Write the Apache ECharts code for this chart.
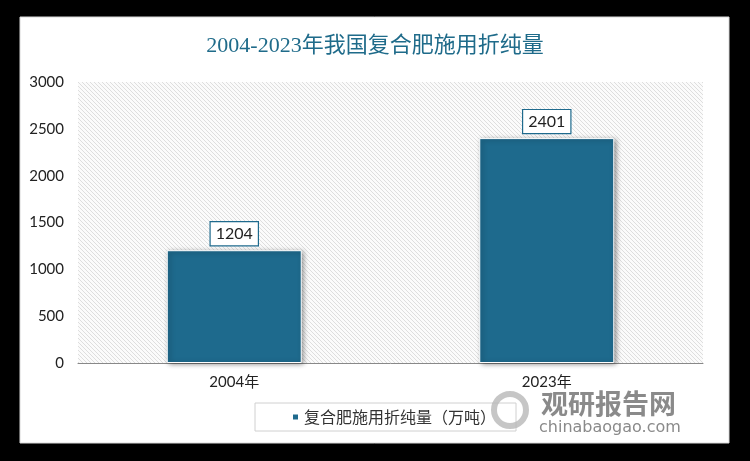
<!DOCTYPE html>
<html>
<head>
<meta charset="utf-8">
<script src="https://cdn.jsdelivr.net/npm/echarts@6/dist/echarts.min.js"></script>
<style>
  html, body { margin: 0; padding: 0; background: #000; }
  #chart { width: 750px; height: 461px; }
</style>
</head>
<body>
<div id="chart"></div>
<script>
// Compound fertilizer application (pure nutrient basis), 10k tonnes
const titleText = '2004-2023年我国复合肥施用折纯量';
const categories = ['2004年', '2023年'];
const values = [1204, 2401];
const seriesName = '复合肥施用折纯量（万吨）';
const yTicks = { min: 0, max: 3000, interval: 500 };

// Diagonal hatch texture for the plotting area
function hatchPattern() {
  const c = document.createElement('canvas');
  c.width = 4; c.height = 4;
  const g = c.getContext('2d');
  g.fillStyle = '#fbfbfb';
  g.fillRect(0, 0, 4, 4);
  g.strokeStyle = '#dedede';
  g.lineWidth = 1;
  g.beginPath();
  g.moveTo(-1, -1); g.lineTo(5, 5);
  g.moveTo(-1, 3); g.lineTo(1, 5);
  g.moveTo(3, -1); g.lineTo(5, 1);
  g.stroke();
  return { image: c, repeat: 'repeat' };
}

const barColor = '#1e6a8d';
const chart = echarts.init(document.getElementById('chart'), null, { renderer: 'canvas' });

chart.setOption({
  backgroundColor: '#000',
  animation: false,
  graphic: [
    {
      type: 'rect', z: -10, silent: true,
      shape: { x: 20, y: 17, width: 709, height: 426 },
      style: { fill: '#fff', stroke: '#d8d8d8', lineWidth: 1 }
    },
    {
      type: 'text', left: 541, top: 390, z: 10, silent: true,
      style: { text: '观研报告网', fill: '#8a8a8a', font: 'bold 27px "Noto Sans CJK SC"' }
    },
    {
      type: 'text', left: 539, top: 420, z: 10, silent: true,
      style: { text: 'chinabaogao.com', fill: '#8a8a8a', font: '16px "DejaVu Sans"' }
    },
    {
      type: 'circle', z: 10, silent: true,
      shape: { cx: 510, cy: 410, r: 16 },
      style: { fill: 'none', stroke: '#b8b8b8', lineWidth: 6, opacity: 0.8 }
    }
  ],
  title: {
    text: titleText,
    left: 'center',
    top: 30,
    textStyle: {
      color: '#1f6b8a',
      fontSize: 22,
      fontWeight: 'normal',
      fontFamily: '"Liberation Serif", "Noto Sans CJK SC", serif'
    }
  },
  legend: {
    left: 255,
    top: 403,
    padding: [6, 20, 6, 36],
    borderColor: '#d0d0d0',
    borderWidth: 1,
    icon: 'rect',
    itemWidth: 7,
    itemHeight: 7,
    itemGap: 6,
    textStyle: {
      fontSize: 16,
      color: '#333',
      fontFamily: '"Noto Sans CJK SC", sans-serif'
    },
    data: [seriesName]
  },
  grid: {
    left: 78,
    right: 47,
    top: 82,
    bottom: 98,
    show: true,
    borderWidth: 0,
    backgroundColor: hatchPattern()
  },
  xAxis: {
    type: 'category',
    data: categories,
    axisLine: { show: true, lineStyle: { color: '#888', width: 1 } },
    axisTick: { show: false },
    axisLabel: {
      margin: 12,
      fontSize: 15,
      color: '#222',
      fontFamily: 'Lato, "Noto Sans CJK SC", sans-serif'
    }
  },
  yAxis: {
    type: 'value',
    min: yTicks.min,
    max: yTicks.max,
    interval: yTicks.interval,
    axisLine: { show: false },
    axisTick: { show: false },
    splitLine: { show: false },
    axisLabel: {
      margin: 14,
      fontSize: 15,
      color: '#222',
      fontFamily: 'Lato, sans-serif',
      formatter: v => String(v)
    }
  },
  series: [{
    name: seriesName,
    type: 'bar',
    data: values,
    barWidth: 135,
    itemStyle: {
      color: barColor,
      borderColor: '#fff',
      borderWidth: 1,
      shadowBlur: 5,
      shadowColor: 'rgba(0,0,0,0.45)',
      shadowOffsetX: 2,
      shadowOffsetY: 1
    },
    label: {
      show: true,
      position: 'top',
      distance: 5,
      color: '#222',
      fontSize: 16,
      fontFamily: 'Lato, sans-serif',
      backgroundColor: '#fff',
      borderColor: barColor,
      borderWidth: 1.2,
      padding: [4, 5, 3, 5]
    }
  }]
});
</script>
</body>
</html>
